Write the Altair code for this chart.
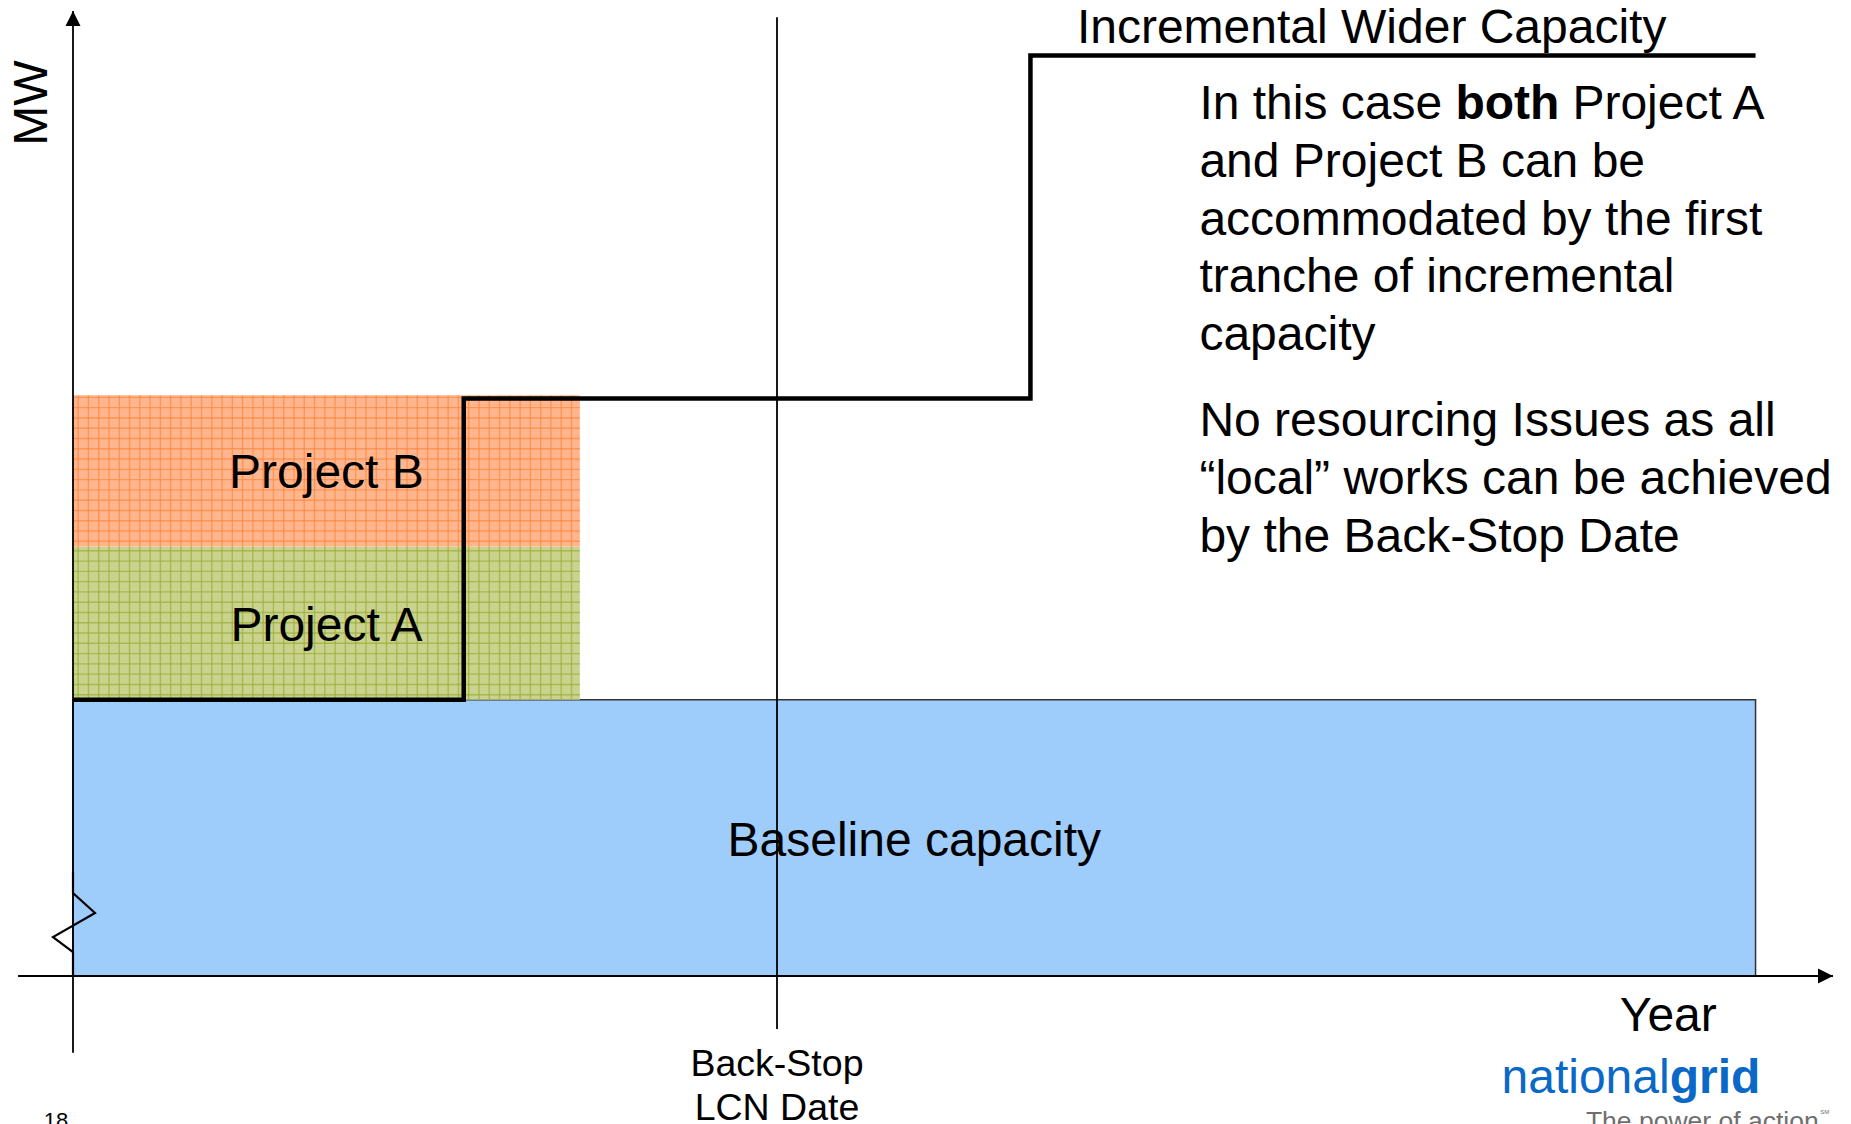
import altair as alt
import pandas as pd

# ---------------------------------------------------------------
# Data: time in years along x, capacity in MW along y
# ---------------------------------------------------------------
block_names = ["Baseline capacity", "Project A", "Project B"]
block_x0 = [0.0, 0.0, 0.0]
block_x1 = [23.9, 7.2, 7.2]
block_y0 = [0, 1800, 2800]
block_y1 = [1800, 2800, 3785]
block_colors = ["#9ECCFB", "#C9D38E", "#FFB68E"]

hatch_names = ["Project A", "Project B"]
hatch_colors = ["#9AAA2E", "#FF8438"]

# wider-capacity step profile
step_x = [0.0, 5.55, 5.55, 13.6, 13.6, 23.9]
step_y = [1800, 1800, 3765, 3765, 6000, 6000]

backstop_year = 10.0
backstop_span = [-345, 6250]

# axes extents
x_axis_span = [-0.78, 25.0]
y_axis_span = [-500, 6290]

# broken-axis zigzag on the MW axis
zig_x = [0.0, 0.0, 0.3125, -0.284, 0.0, 0.0]
zig_y = [678, 541, 411, 254, 156, 0]

# explanatory paragraph
para_lines = [
    "",  # first line is composed from separate runs below
    "and Project B can be",
    "accommodated by the first",
    "tranche of incremental",
    "capacity",
    "No resourcing Issues as all",
    "\u201clocal\u201d works can be achieved",
    "by the Back-Stop Date",
]
para_y = [5675, 5299, 4923, 4547, 4171, 3608, 3232, 2856]
para_x = 16.0
first_line_runs = ["In this case", "both", "Project A"]

FONT = "Liberation Sans"
BIG = 48
K_X = 70.4          # px per year
PLOT_H = 920.5      # px for 0..6000 MW
W = 24 * K_X

xs = alt.Scale(domain=[0, 24], nice=False, zero=False)
ys = alt.Scale(domain=[0, 6000], nice=False, zero=False)
X = lambda f="x": alt.X(f"{f}:Q", scale=xs, axis=None)
Y = lambda f="y": alt.Y(f"{f}:Q", scale=ys, axis=None)

blocks = pd.DataFrame(dict(name=block_names, x=block_x0, x2=block_x1,
                           y=block_y0, y2=block_y1))
color_scale = alt.Scale(domain=block_names, range=block_colors)

base_rect = alt.Chart(blocks[blocks.name == "Baseline capacity"]).mark_rect(
    stroke="#333333", strokeWidth=1.5
).encode(x=X(), x2="x2:Q", y=Y(), y2="y2:Q",
         fill=alt.Fill("name:N", scale=color_scale, legend=None))

proj_rect = alt.Chart(blocks[blocks.name != "Baseline capacity"]).mark_rect(
    strokeWidth=0
).encode(x=X(), x2="x2:Q", y=Y(), y2="y2:Q",
         fill=alt.Fill("name:N", scale=color_scale, legend=None))

# cross-hatch texture over the project blocks
HATCH_DX = 0.146
HATCH_DY = 67.0
hatch_rows = []
for i, name in enumerate(block_names):
    if name not in hatch_names:
        continue
    x0, x1, y0, y1 = block_x0[i], block_x1[i], block_y0[i], block_y1[i]
    gx = x0 + HATCH_DX / 2
    while gx < x1:
        hatch_rows.append(dict(block=name, x=gx, x2=gx, y=y0, y2=y1))
        gx += HATCH_DX
    gy = y0 + HATCH_DY / 2
    while gy < y1:
        hatch_rows.append(dict(block=name, x=x0, x2=x1, y=gy, y2=gy))
        gy += HATCH_DY
hatch = alt.Chart(pd.DataFrame(hatch_rows)).mark_rule(
    strokeWidth=1.4, opacity=0.65
).encode(x=X(), x2="x2:Q", y=Y(), y2="y2:Q",
         stroke=alt.Stroke("block:N",
                           scale=alt.Scale(domain=hatch_names, range=hatch_colors),
                           legend=None))

# thin reference lines: axes and back-stop date
rules = pd.DataFrame([
    dict(x=x_axis_span[0], x2=x_axis_span[1], y=0, y2=0),
    dict(x=0, x2=0, y=y_axis_span[0], y2=y_axis_span[1]),
    dict(x=backstop_year, x2=backstop_year, y=backstop_span[0], y2=backstop_span[1]),
])
rule_layer = alt.Chart(rules).mark_rule(color="black", strokeWidth=1.8).encode(
    x=X(), x2="x2:Q", y=Y(), y2="y2:Q"
)

arrow_up = alt.Chart(pd.DataFrame(dict(x=[0.0], y=[y_axis_span[1]]))).mark_point(
    shape="M0,0L1,2L-1,2Z", size=225, filled=True, opacity=1, color="black", strokeWidth=0
).encode(x=X(), y=Y())
arrow_right = alt.Chart(pd.DataFrame(dict(x=[x_axis_span[1]], y=[0]))).mark_point(
    shape="M0,0L-2,-1L-2,1Z", size=225, filled=True, opacity=1, color="black", strokeWidth=0
).encode(x=X(), y=Y())

step = alt.Chart(pd.DataFrame(dict(x=step_x, y=step_y, o=range(len(step_x))))).mark_line(
    color="black", strokeWidth=4.5, strokeJoin="miter", interpolate="linear"
).encode(x=X(), y=Y(), order="o:Q")

zig = alt.Chart(pd.DataFrame(dict(x=zig_x, y=zig_y, o=range(len(zig_x))))).mark_line(
    color="black", strokeWidth=2.2, strokeJoin="miter"
).encode(x=X(), y=Y(), order="o:Q")


def text_layer(rows, **style):
    style.setdefault("font", FONT)
    style.setdefault("color", "black")
    return alt.Chart(pd.DataFrame(rows)).mark_text(**style).encode(
        x=X(), y=Y(), text="t:N"
    )


block_labels = text_layer(
    [dict(x=3.6, y=3270, t="Project B"),
     dict(x=3.6, y=2275, t="Project A"),
     dict(x=11.95, y=875, t="Baseline capacity")],
    fontSize=BIG, align="center", baseline="middle")

inc_label = text_layer([dict(x=14.26, y=6172, t="Incremental Wider Capacity")],
                       fontSize=BIG, align="left", baseline="middle")

para = text_layer([dict(x=para_x, y=yv, t=tv)
                   for tv, yv in zip(para_lines, para_y) if tv],
                  fontSize=BIG, align="left", baseline="middle")
run1 = text_layer([dict(x=para_x, y=para_y[0], t=first_line_runs[0])],
                  fontSize=BIG, align="left", baseline="middle")
run2 = text_layer([dict(x=para_x, y=para_y[0], t=first_line_runs[1])],
                  fontSize=BIG, align="left", baseline="middle", fontWeight="bold", dx=256)
run3 = text_layer([dict(x=para_x, y=para_y[0], t=first_line_runs[2])],
                  fontSize=BIG, align="left", baseline="middle", dx=373)

mw_label = text_layer([dict(x=-0.57, y=5690, t="MW")],
                      fontSize=BIG, align="center", baseline="middle", angle=270)
year_label = text_layer([dict(x=22.66, y=-268, t="Year")],
                        fontSize=48, align="center", baseline="middle")
date_label = text_layer([dict(x=backstop_year, y=-580, t="Back-Stop"),
                         dict(x=backstop_year, y=-866, t="LCN Date")],
                        fontSize=37.5, align="center", baseline="middle")
page_no = text_layer([dict(x=-0.24, y=-991, t="18")],
                     fontSize=22, align="center", baseline="alphabetic")

logo_a = text_layer([dict(x=22.68, y=-763, t="national")],
                    fontSize=48, align="right", baseline="alphabetic", color="#0A68C6")
logo_b = text_layer([dict(x=22.68, y=-763, t="grid")],
                    fontSize=48, align="left", baseline="alphabetic", color="#0A68C6",
                    fontWeight="bold")
tagline = text_layer([dict(x=21.49, y=-1004, t="The power of action")],
                     fontSize=26.5, align="left", baseline="alphabetic", color="#6E6E6E")
sm_mark = text_layer([dict(x=24.82, y=-900, t="SM")],
                     fontSize=6, align="left", baseline="alphabetic", color="#6E6E6E")

chart = alt.layer(
    base_rect, proj_rect, hatch, rule_layer, step, zig, arrow_up, arrow_right,
    block_labels, inc_label, para, run1, run2, run3,
    mw_label, year_label, date_label, page_no, logo_a, logo_b, tagline, sm_mark,
).properties(
    width=W, height=PLOT_H,
    padding={"left": 73, "top": 55.5, "right": 1851 - 73 - W, "bottom": 148},
    autosize=alt.AutoSizeParams(type="none"),
    background="white",
).configure_view(stroke=None)

chart.save("out.html", embed_options={"renderer": "svg", "actions": False})
